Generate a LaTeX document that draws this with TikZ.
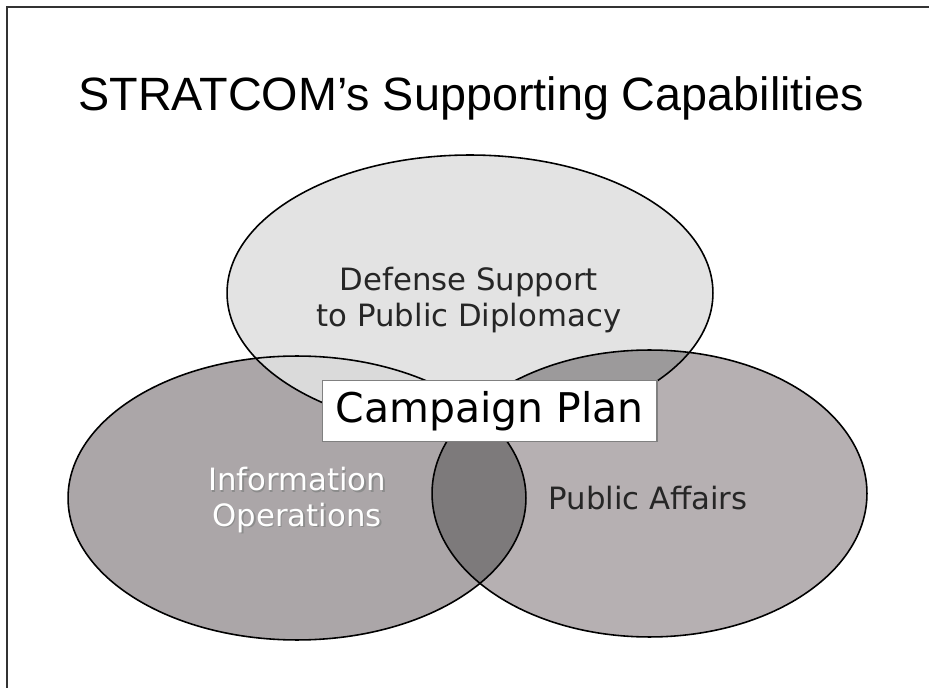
\documentclass[tikz,border=0pt]{standalone}
\usepackage{fontspec}
\setmainfont{Liberation Sans}
\newfontfamily\verd{DejaVu Sans}
\usetikzlibrary{positioning}

\definecolor{topfill}{HTML}{E3E3E3}
\definecolor{iofill}{HTML}{ABA6A8}
\definecolor{pafill}{HTML}{B6B0B2}
\definecolor{lensfill}{HTML}{7D7A7B}
\definecolor{toplens}{HTML}{9C9A9B}
\definecolor{ioshade}{HTML}{DADADA}

\tikzset{
  outline/.style={draw=black, line width=0.9pt},
  label/.style={font=\verd\fontsize{17.5}{20}\selectfont, align=center, text=black!85},
  plan/.style={draw=gray, fill=white, line width=0.6pt, font=\verd\fontsize{23.3}{27}\selectfont,
    minimum width=6.7cm, minimum height=1.22cm, inner sep=0pt}
}

\begin{document}
\begin{tikzpicture}[x=0.02cm, y=-0.02cm]
\useasboundingbox (0,0) rectangle (929,688);
\fill[white] (0,0) rectangle (929,688);
\draw[line width=1.2pt, draw=black!80] (7,688) -- (7,7) -- (929,7);

\node[font=\fontsize{26.6}{30}\selectfont] (title) at (471,98) {STRATCOM’s Supporting Capabilities};

\def\toppath{(470,293) ellipse (4.86cm and 2.76cm)}
\def\iopath{(297,498) ellipse (4.58cm and 2.84cm)}
\def\papath{(649.5,493.5) ellipse (4.35cm and 2.87cm)}

\fill[iofill] \iopath;
\fill[pafill] \papath;
\fill[topfill] \toppath;
\begin{scope}
  \clip \iopath;
  \fill[lensfill] \papath;
  \fill[ioshade] \toppath;
\end{scope}
\begin{scope}
  \clip \papath;
  \fill[toplens] \toppath;
\end{scope}

\draw[outline] \iopath;
\draw[outline] \papath;
\draw[outline] \toppath;

\node[label] (dspd) at (469,300) {Defense Support\\to Public Diplomacy};
\node[label, text=black!45] (ioshadow) at (298.5,501.5) {Information\\Operations};
\node[label, text=white] (io) at (297,500) {Information\\Operations};
\node[label] (pa) at (648,498) {Public Affairs};

\node[plan] (campaign) at (489.5,411) {Campaign Plan};
\end{tikzpicture}
\end{document}
